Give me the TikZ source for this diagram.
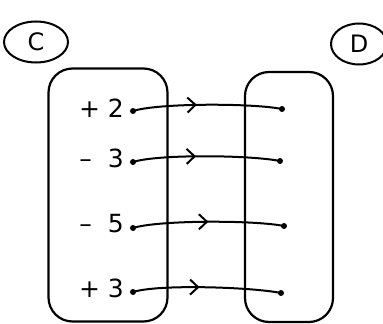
\documentclass[tikz,border=0pt]{standalone}
\usepackage{fontspec}
\setsansfont{DejaVu Sans}
\usetikzlibrary{arrows.meta,decorations.markings,shapes.geometric}

\begin{document}
\begin{tikzpicture}[x=1pt, y=-1pt,
    setbox/.style={draw, line width=2.2pt, rounded corners=24pt},
    tag/.style={draw, ellipse, line width=2pt, minimum width=64pt, minimum height=41pt, font=\sffamily\fontsize{24}{26}\selectfont},
    val/.style={anchor=east, inner sep=0pt, font=\sffamily\fontsize{25}{28}\selectfont},
    pt/.style={circle, fill, inner sep=0pt, minimum size=6pt},
    maps/.style={line width=2pt, postaction={decorate}, decoration={markings, mark=at position #1 with {\arrow{Straight Barb[length=8pt, width=15pt, line width=2pt]}}}},
    maps/.default=0.45
  ]
    \useasboundingbox (0,0) rectangle (383,324);

    \node[tag] (C) at (36,42) {C};
    \node[tag, minimum width=56pt] (D) at (359,44) {D};

    \node[setbox, minimum width=119pt, minimum height=253pt] (setC) at (108,195) {};
    \node[setbox, minimum width=88pt, minimum height=250pt] (setD) at (289,197) {};

    \node[val] (c1) at (124,108) {+ 2};
    \node[val] (c2) at (124,158) {–\hspace{16pt}3};
    \node[val] (c3) at (124,224) {–\hspace{16pt}5};
    \node[val] (c4) at (124,288) {+ 3};

    \node[pt] (a1) at (133,111) {};
    \node[pt] (a2) at (133,162) {};
    \node[pt] (a3) at (133,228) {};
    \node[pt] (a4) at (133,292) {};

    \node[pt] (b1) at (282,109) {};
    \node[pt] (b2) at (280,161) {};
    \node[pt] (b3) at (284,226) {};
    \node[pt] (b4) at (281,293) {};

    \draw[maps=0.43] (a1.center) .. controls +(25,-8) and +(-30,-6) .. (b1.center);
    \draw[maps=0.43] (a2.center) .. controls +(25,-8) and +(-30,-6) .. (b2.center);
    \draw[maps=0.5] (a3.center) .. controls +(25,-8) and +(-30,-6) .. (b3.center);
    \draw[maps=0.45] (a4.center) .. controls +(25,-8) and +(-30,-6) .. (b4.center);
  \end{tikzpicture}
\end{document}
